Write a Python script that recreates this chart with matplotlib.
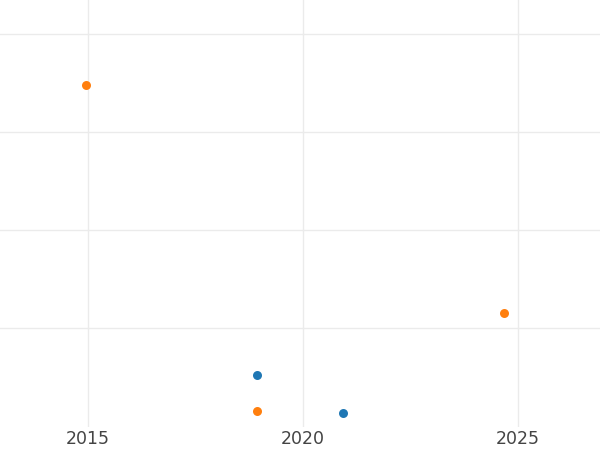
import numpy as np
import matplotlib.pyplot as plt

# %% Data
year_a = [2014.95, 2018.93, 2024.67]
value_a = [3.48, 0.15, 1.15]

year_b = [2018.93, 2020.93]
value_b = [0.52, 0.13]

x_ticks = [2015, 2020, 2025]
y_ticks = [1, 2, 3, 4]

# %% Plot
fig = plt.figure(figsize=(6, 4.5), dpi=100)
ax = fig.add_axes([0, 1 - 427 / 450, 1, 427 / 450])

ax.scatter(year_b, value_b, s=42, color='#1f77b4', zorder=3, linewidths=0)
ax.scatter(year_a, value_a, s=42, color='#ff7f0e', zorder=3, linewidths=0)

ax.set_xlim(2012.95, 2026.91)
ax.set_ylim(-0.01, 4.347)
ax.set_xticks(x_ticks)
ax.set_yticks(y_ticks)
ax.set_yticklabels([])

ax.grid(True, color='#ebebeb', linewidth=1)
ax.set_axisbelow(True)
for s in ax.spines.values():
    s.set_visible(False)
ax.tick_params(axis='both', length=0)
ax.tick_params(axis='x', labelsize=12.5, labelcolor='#444444', pad=2.5)

fig.savefig('out.png', dpi=100)
